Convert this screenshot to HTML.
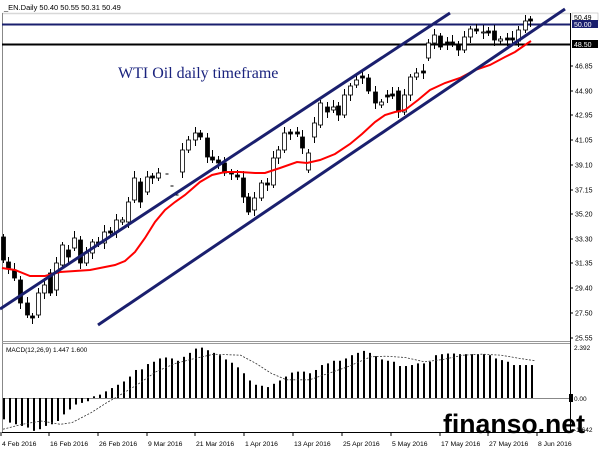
<!DOCTYPE html>
<html><head><meta charset="utf-8"><style>
html,body{margin:0;padding:0;background:#fff;width:600px;height:450px;overflow:hidden}
svg{display:block}
text{font-family:"Liberation Sans",sans-serif}
</style></head><body>
<svg id="s" width="600" height="450" viewBox="0 0 600 450" xmlns="http://www.w3.org/2000/svg">
<rect width="600" height="450" fill="#fff"/>
<text x="4" y="10" font-size="7.5" fill="#000">_EN.Daily  50.40 50.55 50.31 50.49</text>
<line x1="2" y1="13.5" x2="570" y2="13.5" stroke="#d8d8d8" stroke-width="1.5"/>
<line x1="2.5" y1="13" x2="2.5" y2="432" stroke="#888" stroke-width="1"/>
<line x1="570.5" y1="13" x2="570.5" y2="432" stroke="#000" stroke-width="1"/>
<line x1="2" y1="341.5" x2="570" y2="341.5" stroke="#999" stroke-width="1"/>
<line x1="2" y1="343.5" x2="570" y2="343.5" stroke="#999" stroke-width="1"/>
<line x1="2" y1="432.5" x2="570" y2="432.5" stroke="#000" stroke-width="1"/>
<line x1="2" y1="24.5" x2="570" y2="24.5" stroke="#1a1f6e" stroke-width="2"/>
<line x1="2" y1="44.5" x2="570" y2="44.5" stroke="#000" stroke-width="2"/>
<text x="118" y="78" font-size="16" fill="#1a237e" style="font-family:'Liberation Serif',serif">WTI Oil daily timeframe</text>
<g id="cd"></g>
<polyline id="ma" fill="none" stroke="#f00" stroke-width="2"/>
<line x1="0" y1="309" x2="450" y2="13" stroke="#1a1f6e" stroke-width="3"/>
<line x1="98" y1="325" x2="565" y2="9" stroke="#1a1f6e" stroke-width="3"/>
<line x1="2" y1="398.5" x2="570" y2="398.5" stroke="#888" stroke-width="1"/>
<g id="mb"></g>
<polyline id="sig" fill="none" stroke="#333" stroke-width="0.8" stroke-dasharray="2,1.5"/>
<text x="6" y="352" font-size="6.5" fill="#000">MACD(12,26,9) 1.447 1.600</text>
<g id="ax" font-size="7" fill="#000"></g>
<rect x="572" y="13" width="26" height="8" fill="#fff" stroke="#aaa" stroke-width="0.5"/>
<text x="574" y="20" font-size="7">50.49</text>
<rect x="572" y="20" width="26" height="8" fill="#1a1f6e"/>
<text x="574" y="27" font-size="7" fill="#fff">50.00</text>
<rect x="572" y="40" width="26" height="8" fill="#000"/>
<text x="574" y="47" font-size="7" fill="#fff">48.50</text>
<rect x="569" y="394" width="4" height="8" fill="#000"/>
<text x="574" y="401" font-size="6.5">0.00</text>
<text x="574" y="350" font-size="6.5">2.392</text>
<text x="574" y="432" font-size="6.5">-1.642</text>
<g id="dt" font-size="6.8" fill="#000"></g>
<text x="443" y="433" font-size="27" font-weight="bold" fill="#000" textLength="142" lengthAdjust="spacingAndGlyphs" style="font-family:'Liberation Sans',sans-serif">finanso.net</text>
</svg>
<script>
var NS="http://www.w3.org/2000/svg";
function el(p,n,a){var e=document.createElementNS(NS,n);for(var k in a)e.setAttribute(k,a[k]);p.appendChild(e);return e;}
var C=[[3,237,260],[8,262,268],[14,270,278],[20,280,303],[27,303,315],[32,316,318],[38,315,293],[44,293,285],[50,273,293],[56,290,263],[62,265,245],[68,250,257],[74,248,238],[80,240,263],[86,263,253],[92,253,242],[98,242,244],[104,243,232],[110,231,233],[116,232,220],[122,222,220],[128,222,202],[134,200,178],[140,182,202],[147,192,177],[152,176,178],[158,178,173],[182,172,150],[188,150,140],[195,140,133],[200,133,137],[207,138,157],[212,157,160],[218,160,163],[224,163,173],[231,172,174],[237,175,177],[243,178,197],[248,197,212],[254,210,198],[261,198,183],[267,183,185],[273,185,158],[278,158,150],[284,150,133],[290,132,134],[297,132,134],[302,137,148],[308,170,153],[314,137,123],[320,125,103],[327,107,112],[333,110,107],[338,106,115],[344,115,95],[350,95,86],[356,85,80],[362,76,78],[368,78,91],[375,92,103],[381,105,102],[387,95,97],[392,94,96],[398,91,112],[404,112,95],[410,95,77],[416,77,73],[423,71,73],[428,58,43],[434,43,35],[440,36,47],[447,42,44],[452,42,44],[458,45,50],[464,50,37],[470,37,29],[476,29,31],[483,33,32],[488,31,33],[494,31,40],[500,41,39],[507,38,40],[512,38,40],[518,41,30],[525,30,21],[530,19,21]];
var cd=document.getElementById("cd");
C.forEach(function(c,i){var x=c[0]+0.5,o=c[1],cl=c[2],t=Math.min(o,cl),b=Math.max(o,cl);var wt=3+(i*7%5),wb=3+(i*3%6);
el(cd,"line",{x1:x,y1:t-wt,x2:x,y2:b+wb,stroke:"#000","stroke-width":1});
var h=Math.max(b-t,1);
el(cd,"rect",{x:x-2,y:t,width:4,height:h,fill:cl>o?"#000":"#fff",stroke:"#000","stroke-width":0.8});});
[[167,174],[172,186],[177,195]].forEach(function(p){el(cd,"line",{x1:p[0]-1.5,y1:p[1],x2:p[0]+1.5,y2:p[1],stroke:"#000","stroke-width":1});});
var M=[[2,268],[15,270],[30,276],[45,276],[60,272],[75,271],[90,270],[100,268],[115,265],[125,261],[135,252],[145,238],[155,222],[165,210],[175,202],[185,195],[200,182],[212,175],[225,172],[240,172],[255,173],[265,173],[280,168],[297,162],[307,163],[320,160],[335,154],[350,144],[362,134],[375,122],[385,115],[395,112],[405,110],[418,100],[430,90],[445,83],[460,78],[475,70],[490,65],[505,57],[515,52],[525,45],[531,41]];
document.getElementById("ma").setAttribute("points",M.map(function(p){return p.join(",")}).join(" "));
var Z=[270,280,285,290,295,305,300,290,285,275,255,240,225,220,215,200,195,185,175,165,155,140,120,118,102,95,85,82,85,92,80,68,55,52,60,68,75,88,98,112,130,152,165,168,172,162,152,140,128,125,125,130,120,105,100,92,92,85,75,68,62,68,78,88,92,95,108,108,105,100,100,95,75,72,70,70,72,72,72,72,72,75,85,90,95,105,105,105,105];
var mb=document.getElementById("mb");
Z.forEach(function(z,i){var y=343+(z-38)*0.329,x=3+i*6.0;var t=Math.min(y,398),b=Math.max(y,398);el(mb,"rect",{x:x,y:t,width:2,height:Math.max(b-t,1),fill:"#000"});});
var S=[[0,300],[50,285],[100,275],[150,285],[180,280],[230,250],[270,220],[300,200],[350,165],[400,125],[450,100],[500,85],[550,72],[620,75],[660,100],[700,130],[740,150],[800,150],[850,130],[900,110],[960,80],[1000,78],[1050,82],[1100,95],[1150,88],[1200,75],[1250,72],[1300,75],[1350,85],[1390,92]];
document.getElementById("sig").setAttribute("points",S.map(function(p){return (p[0]/2.61+3).toFixed(1)+","+(343+(p[1]-38)*0.329).toFixed(1)}).join(" "));
var ax=document.getElementById("ax");
[["46.85",66],["44.90",91],["42.95",115],["41.05",140],["39.10",165],["37.15",190],["35.20",214],["33.30",239],["31.35",263],["29.40",288],["27.50",313],["25.55",338]].forEach(function(a){
el(ax,"line",{x1:570,y1:a[1],x2:573,y2:a[1],stroke:"#000","stroke-width":1});var t=el(ax,"text",{x:575,y:a[1]+2.5});t.textContent=a[0];});
var dt=document.getElementById("dt");
[["4 Feb 2016",2],["16 Feb 2016",50],["26 Feb 2016",99],["9 Mar 2016",148],["21 Mar 2016",196],["1 Apr 2016",245],["13 Apr 2016",294],["25 Apr 2016",343],["5 May 2016",392],["17 May 2016",441],["27 May 2016",489],["8 Jun 2016",538]].forEach(function(d){
el(dt,"line",{x1:d[1]-1,y1:432,x2:d[1]-1,y2:436,stroke:"#000","stroke-width":1});var t=el(dt,"text",{x:d[1],y:446});t.textContent=d[0];});
</script>
</body></html>
